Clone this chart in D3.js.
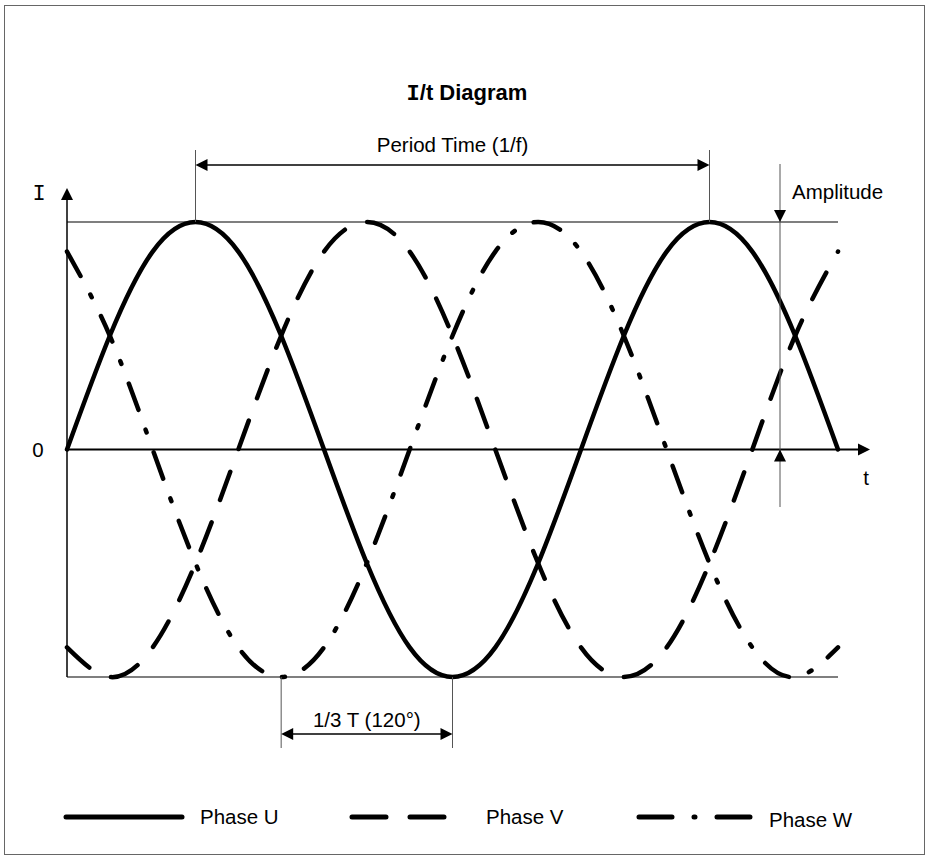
<!DOCTYPE html>
<html>
<head>
<meta charset="utf-8">
<script src="https://cdn.jsdelivr.net/npm/d3@7"></script>
<style>
  body { margin: 0; background: #fff; }
  text { font-family: "Liberation Sans", Arial, sans-serif; fill: #000; }
</style>
</head>
<body>
<div id="chart"></div>
<script>
// phase angle of the samples, degrees (1.5 periods shown)
const angles = [0, 30, 60, 90, 120, 150, 180, 210, 240, 270, 300, 330, 360, 390, 420, 450, 480, 510, 540];

// current, relative to the amplitude
const phaseU = [0, 0.5, 0.87, 1, 0.87, 0.5, 0, -0.5, -0.87, -1, -0.87, -0.5, 0, 0.5, 0.87, 1, 0.87, 0.5, 0];
const phaseV = [-0.87, -1, -0.87, -0.5, 0, 0.5, 0.87, 1, 0.87, 0.5, 0, -0.5, -0.87, -1, -0.87, -0.5, 0, 0.5, 0.87];
const phaseW = [0.87, 0.5, 0, -0.5, -0.87, -1, -0.87, -0.5, 0, 0.5, 0.87, 1, 0.87, 0.5, 0, -0.5, -0.87, -1, -0.87];

const seriesNames = ["Phase U", "Phase V", "Phase W"];
const seriesValues = [phaseU, phaseV, phaseW];
const dashes = [null, "30,24", "28,21,3,21"];

const width = 927, height = 859;
const fs = "20.5px";
const monoFont = "'Liberation Mono', 'DejaVu Sans Mono', monospace";

let svg = d3.select("#chart")
    .append("svg")
    .attr("width", width)
    .attr("height", height);

// frame
svg.append("rect")
    .attr("x", 4.5).attr("y", 5.5)
    .attr("width", 920).attr("height", 849)
    .attr("fill", "none")
    .attr("stroke", "#666")
    .attr("stroke-width", 1);

let x = d3.scaleLinear().domain([0, 540]).range([67, 838]);
let y = d3.scaleLinear().domain([-1, 1]).range([677, 222]);

function arrow(tipX, tipY, dir, len = 12, half = 6) {
    // dir: "up", "down", "left", "right"
    let pts;
    if (dir === "up") pts = [[tipX, tipY], [tipX - half, tipY + len], [tipX + half, tipY + len]];
    if (dir === "down") pts = [[tipX, tipY], [tipX - half, tipY - len], [tipX + half, tipY - len]];
    if (dir === "left") pts = [[tipX, tipY], [tipX + len, tipY - half], [tipX + len, tipY + half]];
    if (dir === "right") pts = [[tipX, tipY], [tipX - len, tipY - half], [tipX - len, tipY + half]];
    svg.append("path").attr("d", "M" + pts.join("L") + "Z").attr("fill", "#000");
}

function line(x1, y1, x2, y2, color = "#000", w = 1) {
    svg.append("line")
        .attr("x1", x1).attr("y1", y1).attr("x2", x2).attr("y2", y2)
        .attr("stroke", color).attr("stroke-width", w);
}

// amplitude reference lines
line(x(0), y(1), x(540), y(1), "#000", 1.2);
line(x(0), y(-1), x(540), y(-1), "#000", 1.2);

// axes
line(x(0), y(-1), x(0), 198, "#000", 1.5);
arrow(x(0), 188, "up");
line(x(0), y(0), 860, y(0), "#000", 2);
arrow(870, y(0), "right");

svg.append("text").attr("x", 39).attr("y", 192).attr("dy", "0.35em")
    .attr("text-anchor", "middle").style("font-size", "22px")
    .style("font-family", monoFont).text("I");
svg.append("text").attr("x", 38).attr("y", y(0)).attr("dy", "0.35em")
    .attr("text-anchor", "middle").style("font-size", fs).text("0");
svg.append("text").attr("x", 866).attr("y", 478).attr("dy", "0.35em")
    .attr("text-anchor", "middle").style("font-size", fs).text("t");

// title
let title = svg.append("text")
    .attr("x", 467).attr("y", 100)
    .attr("text-anchor", "middle")
    .style("font-size", "22px")
    .style("font-weight", "bold");
title.append("tspan").style("font-family", monoFont).text("I");
title.append("tspan").text("/t Diagram");

// curves
let curve = d3.line()
    .x((d, i) => x(angles[i]))
    .y(d => y(d))
    .curve(d3.curveNatural);

seriesValues.forEach((vals, i) => {
    svg.append("path")
        .datum(vals)
        .attr("d", curve)
        .attr("fill", "none")
        .attr("stroke", "#000")
        .attr("stroke-width", 4.5)
        .attr("stroke-linecap", "round")
        .attr("stroke-dasharray", dashes[i]);
});

// period time dimension (peak to peak of phase U)
let p1 = x(90), p2 = x(450);
line(p1, 150, p1, y(1), "#555", 1);
line(p2, 150, p2, y(1), "#555", 1);
line(p1 + 10, 165, p2 - 10, 165, "#000", 1.5);
arrow(p1, 165, "left");
arrow(p2, 165, "right");
svg.append("text").attr("x", (p1 + p2) / 2).attr("y", 152)
    .attr("text-anchor", "middle").style("font-size", fs).text("Period Time (1/f)");

// amplitude dimension
let ax = 780;
line(ax, 164, ax, 507, "#555", 1);
arrow(ax, y(1), "down");
arrow(ax, y(0), "up");
svg.append("text").attr("x", 792).attr("y", 199)
    .style("font-size", fs).text("Amplitude");

// 1/3 T dimension (trough of W to trough of U)
let q1 = x(150), q2 = x(270);
line(q1, y(-1), q1, 748, "#555", 1);
line(q2, y(-1), q2, 748, "#555", 1);
line(q1 + 10, 734, q2 - 10, 734, "#000", 1.5);
arrow(q1, 734, "left");
arrow(q2, 734, "right");
svg.append("text").attr("x", (q1 + q2) / 2).attr("y", 727)
    .attr("text-anchor", "middle").style("font-size", fs).text("1/3 T (120°)");

// legend
const legendX = [[66, 182], [352, 444], [639, 751]];
const legendTextX = [200, 486, 769];
const legendY = 817;
seriesNames.forEach((name, i) => {
    svg.append("line")
        .attr("x1", legendX[i][0]).attr("x2", legendX[i][1])
        .attr("y1", legendY).attr("y2", legendY)
        .attr("stroke", "#000")
        .attr("stroke-width", 5)
        .attr("stroke-linecap", "round")
        .attr("stroke-dasharray", i === 0 ? null : (i === 1 ? "34,24" : "33,22,1,22"));
    svg.append("text")
        .attr("x", legendTextX[i]).attr("y", legendY + (i === 2 ? 3 : 0))
        .attr("dy", "0.35em")
        .style("font-size", fs)
        .text(name);
});
</script>
</body>
</html>
